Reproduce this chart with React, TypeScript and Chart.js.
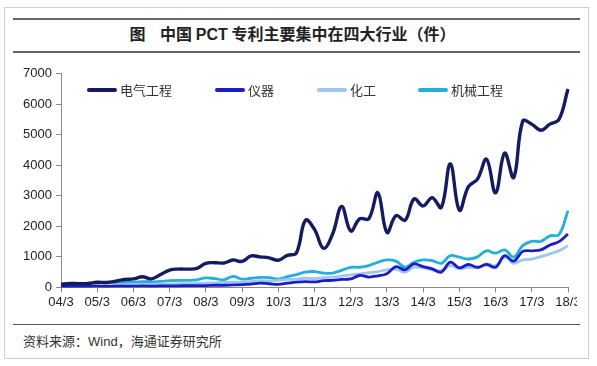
import React, { useEffect, useRef } from "react";
import { Chart, registerables } from "chart.js";

Chart.register(...registerables);

const quarters: string[] = [
  "04/3","04/4","05/1","05/2","05/3","05/4","06/1","06/2","06/3","06/4",
  "07/1","07/2","07/3","07/4","08/1","08/2","08/3","08/4","09/1","09/2",
  "09/3","09/4","10/1","10/2","10/3","10/4","11/1","11/2","11/3","11/4",
  "12/1","12/2","12/3","12/4","13/1","13/2","13/3","13/4","14/1","14/2",
  "14/3","14/4","15/1","15/2","15/3","15/4","16/1","16/2","16/3","16/4",
  "17/1","17/2","17/3","17/4","18/1","18/2","18/3",
];

const electrical: number[] = [
  100,130,120,130,170,160,200,260,280,350,
  280,420,570,600,600,620,790,810,800,900,
  850,1030,1000,970,890,1050,1130,2200,1900,1280,
  1750,2650,1850,2250,2250,3100,1800,2350,2200,2900,
  2670,2940,2620,4050,2530,3300,3550,4200,3100,4400,
  3600,5450,5350,5150,5350,5500,6500,
];

const instruments: number[] = [
  30,30,30,30,40,30,40,40,40,50,
  40,50,50,50,60,60,60,70,70,80,
  90,110,140,120,100,140,175,190,180,220,
  230,260,280,390,340,380,450,680,575,770,
  680,610,500,825,640,750,660,750,660,1040,
  860,1180,1200,1230,1390,1500,1750,
];

const chemical: number[] = [
  60,70,60,70,70,80,80,90,90,100,
  100,110,110,120,120,130,140,150,160,170,
  175,190,220,210,230,260,270,300,290,320,
  340,370,410,440,480,520,575,600,500,660,
  640,575,555,715,610,660,640,770,715,990,
  790,900,930,1010,1100,1200,1370,
];

const machinery: number[] = [
  100,110,100,120,110,130,150,160,170,190,
  180,200,220,230,230,250,310,290,250,360,
  270,300,330,320,270,350,420,500,520,470,
  470,560,660,660,715,825,900,860,660,825,
  900,880,790,1040,990,930,1000,1200,1120,1230,
  990,1370,1510,1510,1690,1730,2510,
];

const seriesNames = ["电气工程", "仪器", "化工", "机械工程"];
const seriesColors = ["#151b60", "#1a1ec4", "#9fc6ee", "#22afd9"];
const seriesWidths = [3.4, 2.8, 2.8, 2.8];
const seriesData = [electrical, instruments, chemical, machinery];

const yMax = 7000;
const yStep = 1000;

const CJK = '"Noto Sans CJK SC", "Noto Sans", sans-serif';
const LATIN = '"Liberation Sans", Arial, sans-serif';

export default function App() {
  const ref = useRef<HTMLCanvasElement | null>(null);

  useEffect(() => {
    document.body.style.margin = "0";
    const canvas = ref.current;
    if (!canvas) return;
    const chart = new Chart(canvas, {
      type: "line",
      data: {
        labels: quarters,
        datasets: seriesData.map((d, i) => ({
          label: seriesNames[i],
          data: d,
          borderColor: seriesColors[i],
          backgroundColor: seriesColors[i],
          borderWidth: seriesWidths[i],
          pointRadius: 0,
          tension: 0.4,
          fill: false,
        })),
      },
      options: {
        animation: false,
        responsive: false,
        maintainAspectRatio: false,
        layout: { padding: { left: 0, right: 9, top: 10, bottom: 0 } },
        plugins: { legend: { display: false }, tooltip: { enabled: false } },
        scales: {
          x: {
            type: "category",
            grid: {
              drawOnChartArea: false,
              drawTicks: true,
              tickLength: 5,
              color: (c: any) => (c.index % 4 === 0 ? "#8a8a8a" : "rgba(0,0,0,0)"),
            },
            border: { display: true, color: "#8a8a8a", width: 1 },
            ticks: {
              autoSkip: false,
              maxRotation: 0,
              minRotation: 0,
              padding: 2,
              color: "#222",
              font: { family: LATIN, size: 13 },
              callback: (_v: any, idx: number) => (idx % 4 === 0 ? quarters[idx] : ""),
            },
            afterFit: (s: any) => {
              s.paddingLeft = 0;
              s.paddingRight = 0;
            },
          },
          y: {
            min: 0,
            max: yMax,
            grid: { drawOnChartArea: false, drawTicks: true, tickLength: 5, color: "#8a8a8a" },
            border: { display: true, color: "#8a8a8a", width: 1 },
            ticks: {
              stepSize: yStep,
              padding: 4,
              color: "#222",
              font: { family: LATIN, size: 13 },
              callback: (v: any) => String(v),
            },
            afterFit: (s: any) => {
              s.width = 51;
            },
          },
        },
      },
    });
    return () => chart.destroy();
  }, []);

  const legendX = [87, 215, 317, 418];

  return (
    <div style={{ position: "relative", width: 597, height: 366, background: "#fff", overflow: "hidden" }}>
      <div
        style={{
          position: "absolute",
          left: 4,
          top: 7,
          width: 585,
          height: 352,
          border: "1px solid #cfcfcf",
          boxSizing: "border-box",
        }}
      />
      <div style={{ position: "absolute", left: 13, top: 18, width: 567, height: 1.5, background: "#666" }} />
      <div
        style={{
          position: "absolute",
          left: -6,
          top: 22,
          width: 597,
          textAlign: "center",
          fontFamily: CJK,
          fontWeight: 700,
          fontSize: 16,
          lineHeight: "22px",
          color: "#222",
          whiteSpace: "pre",
        }}
      >
        <span>图</span>
        <span>{"    中国 "}</span>
        <span style={{ fontFamily: LATIN, fontWeight: 700 }}>PCT</span>
        <span>{" 专利主要集中在四大行业（件）"}</span>
      </div>
      <div style={{ position: "absolute", left: 13, top: 51, width: 567, height: 1.5, background: "#666" }} />
      <canvas
        ref={ref}
        width={567}
        height={250}
        style={{ position: "absolute", left: 10, top: 62, width: 567, height: 250 }}
      />
      {seriesNames.map((n, i) => (
        <div key={n} style={{ position: "absolute", left: legendX[i], top: 81, height: 18, display: "flex", alignItems: "center" }}>
          <div style={{ width: 30, height: 4, background: seriesColors[i], borderRadius: 2 }} />
          <span style={{ marginLeft: 3, fontFamily: CJK, fontSize: 13, color: "#333", lineHeight: "18px" }}>{n}</span>
        </div>
      ))}
      <div style={{ position: "absolute", left: 13, top: 324, width: 567, height: 1, background: "#555" }} />
      <div
        style={{
          position: "absolute",
          left: 23,
          top: 332,
          fontFamily: CJK,
          fontSize: 13,
          lineHeight: "18px",
          color: "#333",
          whiteSpace: "pre",
        }}
      >
        资料来源：<span style={{ fontFamily: LATIN }}>Wind</span>，海通证券研究所
      </div>
    </div>
  );
}
